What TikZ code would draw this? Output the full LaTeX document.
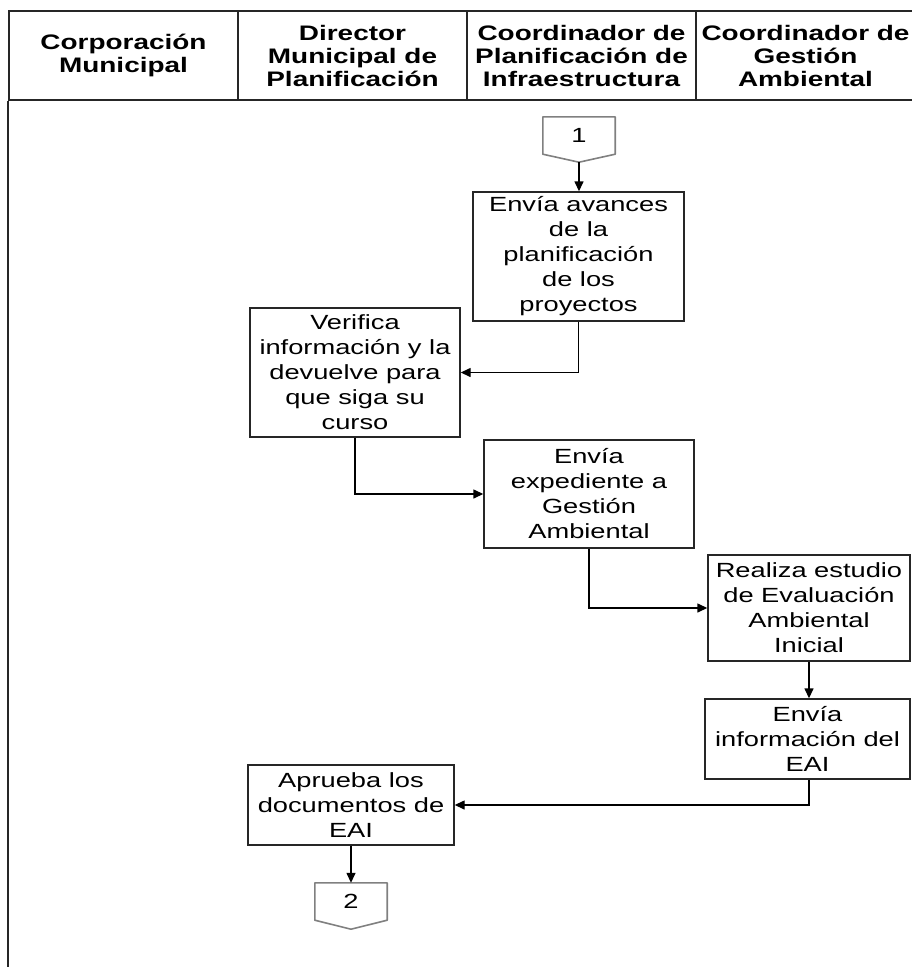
\documentclass[tikz,border=0pt]{standalone}
\usepackage{fontspec}
\setmainfont[FakeStretch=1.33]{Liberation Sans}
\usetikzlibrary{arrows.meta,calc}

\begin{document}
\begin{tikzpicture}[x=1pt,y=-1pt,
  lane/.style={draw=black!85,line width=1.6pt,minimum height=89pt,inner sep=0pt,
    align=center,font=\fontsize{21}{23}\selectfont\bfseries},
  task/.style={draw=black!85,line width=1.4pt,inner sep=0pt,align=center,
    font=\fontsize{20.5}{25}\selectfont},
  offpage/.style={minimum width=72pt,minimum height=37pt,inner sep=0pt,
    font=\fontsize{20.5}{25}\selectfont},
  pagemark/.style={draw=black!50,line width=1.6pt,line join=round},
  flow/.style={line width=1.4pt,-{Triangle[length=10pt,width=9pt]}}
]
\useasboundingbox (0,0) rectangle (912,967);
\clip (0,0) rectangle (912,967);

% swimlane headers
\node[lane,minimum width=229pt] (h1) at (123.5,55.5) {Corporación\\Municipal};
\node[lane,minimum width=229pt] (h2) at (352.5,55.5) {Director\\Municipal de\\Planificación};
\node[lane,minimum width=229pt] (h3) at (581.5,55.5) {Coordinador de\\Planificación de\\Infraestructura};
\node[lane,minimum width=219pt] (h4) at (805.5,55.5) {Coordinador de\\Gestión\\Ambiental};
\draw[black!85,line width=1.6pt] (h1.south west) -- ++(0,880);

% off-page reference 1
\node[offpage] (p1) at (579,135.5) {1};
\draw[pagemark] (p1.north west) -- (p1.north east) -- (p1.south east)
  -- ($(p1.south)+(0,8)$) coordinate (p1tip) -- (p1.south west) -- cycle;

% activities
\node[task,minimum width=211pt,minimum height=129pt] (avances) at (578.5,256.5)
  {Envía avances\\de la\\planificación\\de los\\proyectos};
\node[task,minimum width=210pt,minimum height=129pt] (verifica) at (355,372.5)
  {Verifica\\información y la\\devuelve para\\que siga su\\curso};
\node[task,minimum width=210pt,minimum height=108pt] (expediente) at (589,494)
  {Envía\\expediente a\\Gestión\\Ambiental};
\node[task,minimum width=202pt,minimum height=106pt] (realiza) at (809,608)
  {Realiza estudio\\de Evaluación\\Ambiental\\Inicial};
\node[task,minimum width=205pt,minimum height=80pt] (info) at (807.5,739)
  {Envía\\información del\\EAI};
\node[task,minimum width=206pt,minimum height=80pt] (aprueba) at (351,805)
  {Aprueba los\\documentos de\\EAI};

% off-page reference 2
\node[offpage] (p2) at (351,901.5) {2};
\draw[pagemark] (p2.north west) -- (p2.north east) -- (p2.south east)
  -- ($(p2.south)+(0,9)$) -- (p2.south west) -- cycle;

% flow
\draw[flow] (p1tip) -- (p1tip |- avances.north);
\draw[flow] (avances.south) |- (verifica.east);
\draw[flow] (verifica.south) |- (expediente.west);
\draw[flow] (expediente.south) |- (realiza.west);
\draw[flow] (realiza.south) -- (realiza.south |- info.north);
\draw[flow] (realiza.south |- info.south) |- (aprueba.east);
\draw[flow] (aprueba.south) -- (p2.north);
\end{tikzpicture}
\end{document}
